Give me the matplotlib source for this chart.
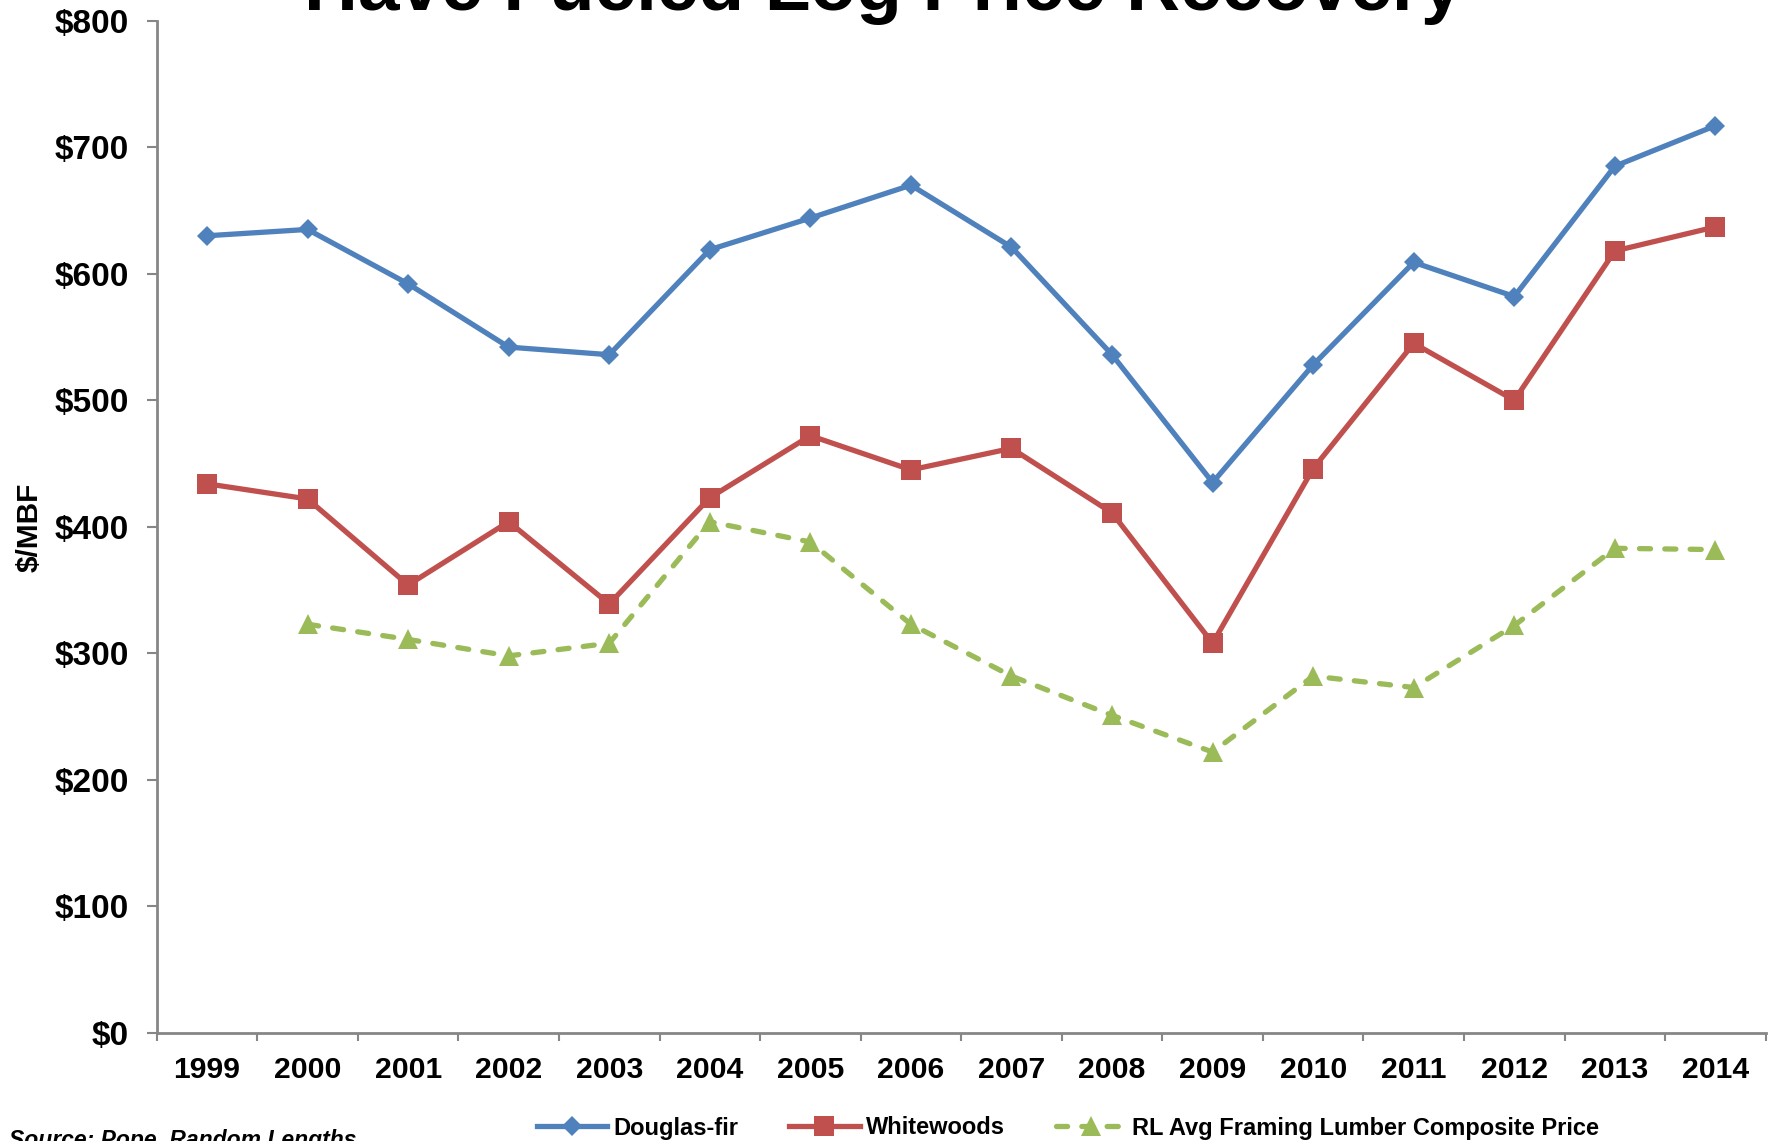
import numpy as np
import matplotlib
matplotlib.use("Agg")
import matplotlib.pyplot as plt
from matplotlib.ticker import FixedLocator, FuncFormatter

plt.rcParams['font.family'] = ['Liberation Sans', 'DejaVu Sans']

years = ["1999", "2000", "2001", "2002", "2003", "2004", "2005", "2006",
         "2007", "2008", "2009", "2010", "2011", "2012", "2013", "2014"]
douglas_fir = [630, 635, 592, 542, 536, 619, 644, 670,
               621, 536, 435, 528, 609, 582, 685, 717]
whitewoods = [434, 422, 354, 404, 339, 423, 472, 445,
              462, 411, 308, 446, 545, 500, 618, 637]
# no composite price for 1999
rl_composite = [np.nan, 323, 311, 298, 308, 404, 388, 323,
                282, 251, 222, 282, 273, 322, 383, 382]

blue = "#4F81BD"
red = "#C0504D"
green = "#9BBB59"
grey = "#868686"

fig = plt.figure(figsize=(17.71, 11.41), dpi=100)
ax = fig.add_axes([0.0885, 0.0947, 0.9085, 0.8872])

x = np.arange(len(years))
ax.plot(x, douglas_fir, color=blue, lw=3.8, marker="D", ms=10.5,
        mew=0, label="Douglas-fir")
ax.plot(x, whitewoods, color=red, lw=3.8, marker="s", ms=14.5,
        mew=0, label="Whitewoods")
ax.plot(x, rl_composite, color=green, lw=3.8, marker="^", ms=14,
        mew=0, linestyle=(0, (2.1, 2.7)), dash_capstyle="round",
        label="RL Avg Framing Lumber Composite Price")

ax.set_xlim(-0.5, len(years) - 0.5)
ax.set_ylim(0, 800)
ax.set_yticks(np.arange(0, 801, 100))
ax.yaxis.set_major_formatter(FuncFormatter(lambda v, p: "${:.0f}".format(v)))

ax.set_xticks(x)
ax.set_xticklabels(years)
ax.xaxis.set_minor_locator(FixedLocator(np.arange(-0.5, len(years), 1.0)))

for side in ["top", "right"]:
    ax.spines[side].set_visible(False)
for side in ["left", "bottom"]:
    ax.spines[side].set_color(grey)
    ax.spines[side].set_linewidth(2)

ax.tick_params(axis="y", length=7.2, width=1.5, color=grey, pad=13,
               labelsize=24)
ax.tick_params(axis="x", which="major", length=0, pad=16.5, labelsize=21.7)
ax.tick_params(axis="x", which="minor", length=6, width=1.5, color=grey)
for lab in ax.get_xticklabels() + ax.get_yticklabels():
    lab.set_fontweight("bold")

fig.text(0.0165, 0.538, "$/MBF", rotation=90, ha="center", va="center",
         fontsize=21.5, fontweight="bold")

fig.text(0.499, 1 - 10 / 1141, "Have Fueled Log Price Recovery",
         ha="center", va="baseline", fontsize=53.8, fontweight="bold")

fig.text(0.005, 1 - 1129 / 1141, "Source: Pope, Random Lengths",
         ha="left", va="top", fontsize=16.5, style="italic",
         fontweight="bold")

leg = fig.legend(loc="center", bbox_to_anchor=(0.603, 1 - 1128 / 1141),
                 ncol=3, frameon=False, handlelength=3.0, handletextpad=0.25,
                 columnspacing=2.15, borderaxespad=0, borderpad=0,
                 prop={"size": 17, "weight": "bold"})

fig.savefig("out.png", dpi=100)
